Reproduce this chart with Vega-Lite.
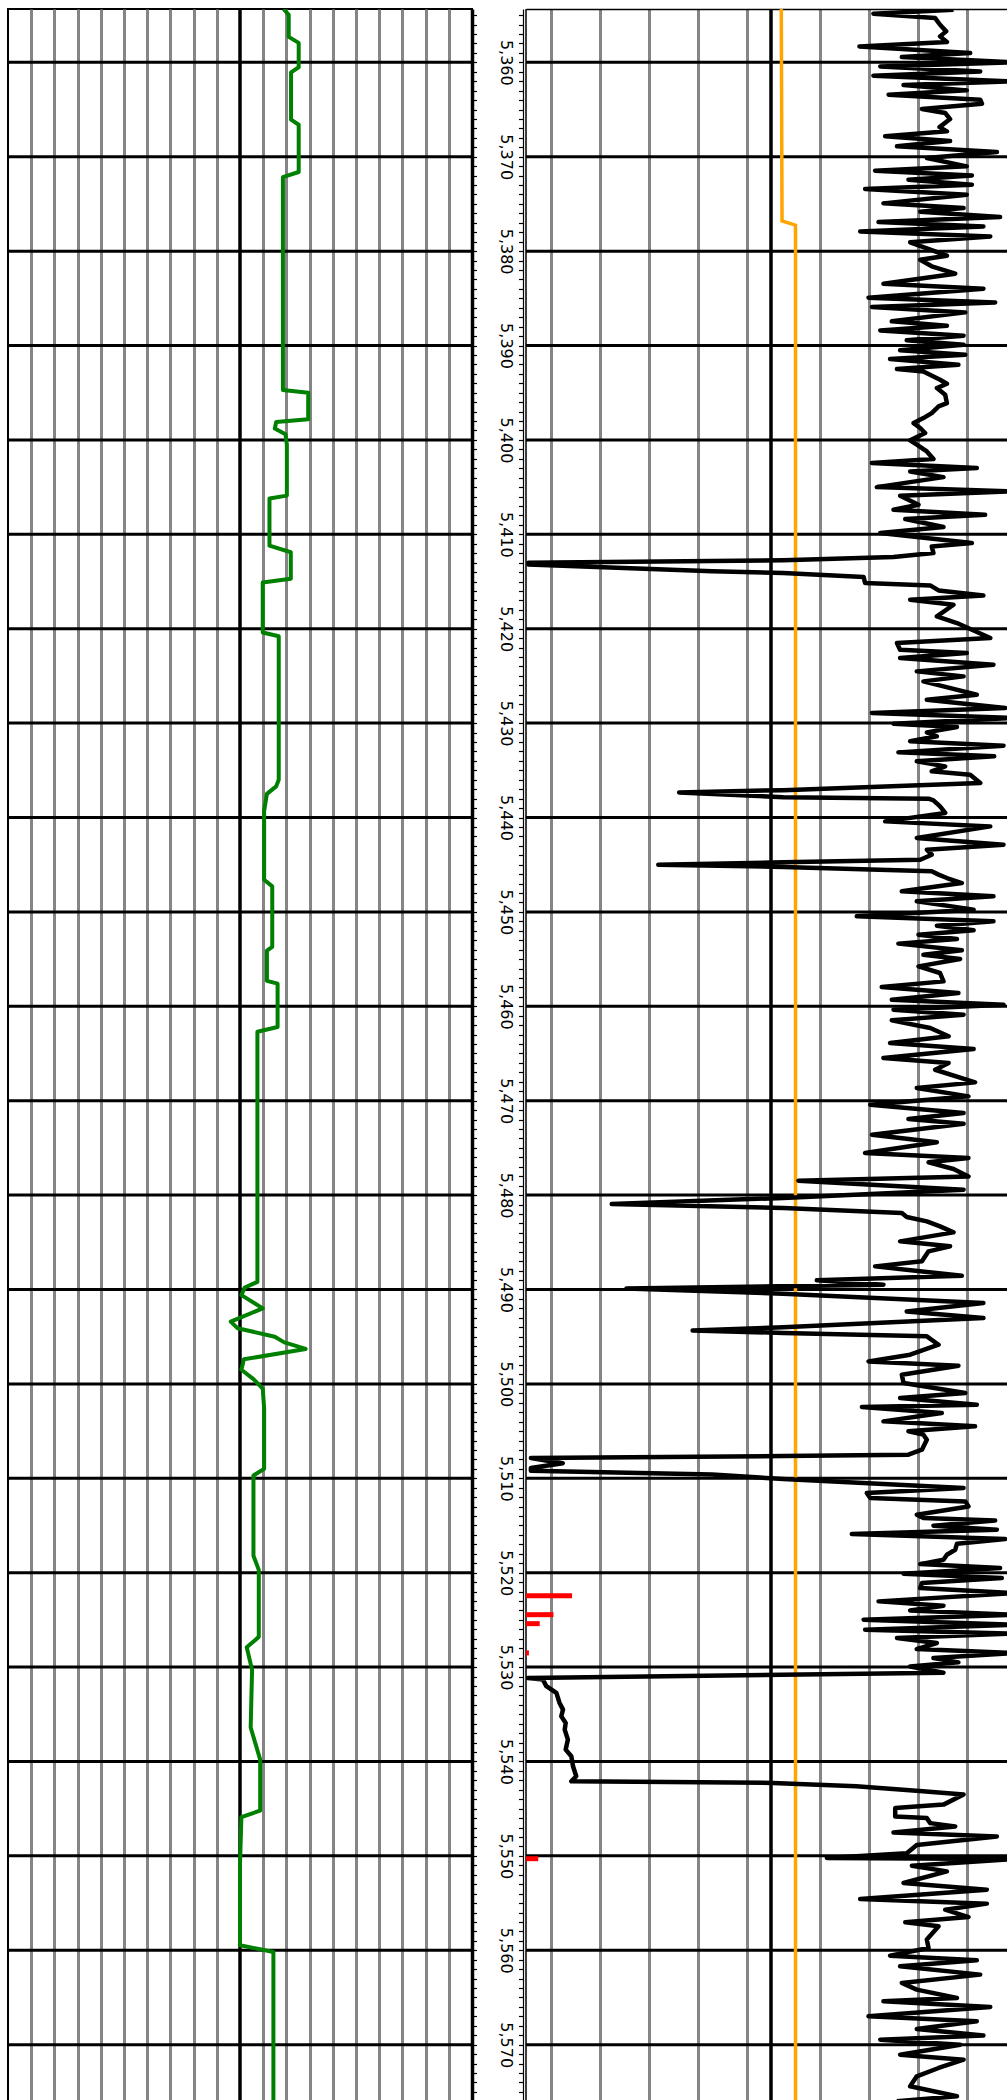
{
  "$schema": "https://vega.github.io/schema/vega-lite/v6.json",
  "padding": {"left": 5, "top": 6, "right": 0, "bottom": 0},
  "background": "white",
  "spacing": 54,
  "bounds": "flush",
  "config": {"view": {"stroke": null}},
  "datasets": {
    "depthlines": [{"depth":5360},{"depth":5370},{"depth":5380},{"depth":5390},{"depth":5400},{"depth":5410},{"depth":5420},{"depth":5430},{"depth":5440},{"depth":5450},{"depth":5460},{"depth":5470},{"depth":5480},{"depth":5490},{"depth":5500},{"depth":5510},{"depth":5520},{"depth":5530},{"depth":5540},{"depth":5550},{"depth":5560},{"depth":5570}],
    "gr": [
      {"depth":5354.35,"v":11.88},{"depth":5354.97,"v":12.10},{"depth":5357.30,"v":12.10},{"depth":5357.94,"v":12.53},{"depth":5360.52,"v":12.53},{"depth":5361.06,"v":12.20},{"depth":5366.07,"v":12.20},{"depth":5366.61,"v":12.53},{"depth":5371.62,"v":12.53},{"depth":5372.16,"v":11.85},{"depth":5394.70,"v":11.85},{"depth":5395.00,"v":12.94},{"depth":5397.80,"v":12.94},{"depth":5398.10,"v":11.56},{"depth":5398.80,"v":11.50},{"depth":5399.40,"v":11.96},{"depth":5400.50,"v":12.02},{"depth":5405.90,"v":12.02},{"depth":5406.20,"v":11.27},{"depth":5411.20,"v":11.27},{"depth":5411.90,"v":12.19},{"depth":5414.70,"v":12.19},{"depth":5415.10,"v":10.98},{"depth":5420.40,"v":10.98},{"depth":5420.80,"v":11.67},{"depth":5436.00,"v":11.67},{"depth":5436.70,"v":11.56},{"depth":5437.50,"v":11.16},{"depth":5439.30,"v":11.04},{"depth":5446.60,"v":11.04},{"depth":5447.30,"v":11.39},{"depth":5453.70,"v":11.39},{"depth":5454.10,"v":11.16},{"depth":5457.30,"v":11.16},{"depth":5457.60,"v":11.62},{"depth":5462.20,"v":11.62},{"depth":5462.70,"v":10.75},{"depth":5489.20,"v":10.75},{"depth":5489.80,"v":10.20},{"depth":5490.60,"v":10.06},{"depth":5492.00,"v":10.98},{"depth":5493.40,"v":9.60},{"depth":5494.10,"v":9.89},{"depth":5495.00,"v":11.50},{"depth":5495.60,"v":11.91},{"depth":5496.30,"v":12.83},{"depth":5497.40,"v":10.17},{"depth":5498.50,"v":10.06},{"depth":5499.50,"v":10.58},{"depth":5500.50,"v":10.98},{"depth":5502.60,"v":11.04},{"depth":5509.00,"v":11.04},{"depth":5509.70,"v":10.58},{"depth":5518.20,"v":10.58},{"depth":5519.70,"v":10.81},{"depth":5526.80,"v":10.81},{"depth":5527.90,"v":10.29},{"depth":5530.30,"v":10.52},{"depth":5536.40,"v":10.46},{"depth":5539.80,"v":10.87},{"depth":5545.20,"v":10.87},{"depth":5545.90,"v":10.06},{"depth":5550.90,"v":10.00},{"depth":5559.47,"v":10.00},{"depth":5560.18,"v":11.44},{"depth":5576.20,"v":11.44}
    ],
    "cal": [{"depth":5354.35,"v":10.42},{"depth":5376.8,"v":10.45},{"depth":5377.25,"v":11.0},{"depth":5576.2,"v":11.0}],
    "red": [{"depth":5522.45,"v":1.88},{"depth":5524.45,"v":1.12},{"depth":5525.4,"v":0.56},{"depth":5528.5,"v":0.12},{"depth":5550.3,"v":0.5}],
    "res": [
      {"depth":5354.43,"v":17.45},{"depth":5354.85,"v":14.18},{"depth":5355.31,"v":16.70},{"depth":5356.02,"v":16.90},{"depth":5356.72,"v":17.15},{"depth":5357.25,"v":16.90},{"depth":5357.85,"v":17.18},{"depth":5358.31,"v":13.61},{"depth":5359.02,"v":18.13},{"depth":5359.44,"v":15.34},{"depth":5360.01,"v":19.90},{"depth":5360.43,"v":14.46},{"depth":5360.96,"v":18.54},{"depth":5361.42,"v":14.18},{"depth":5362.02,"v":19.90},{"depth":5362.41,"v":15.41},{"depth":5362.97,"v":17.99},{"depth":5363.43,"v":14.80},{"depth":5363.96,"v":18.54},{"depth":5364.38,"v":18.61},{"depth":5364.95,"v":16.16},{"depth":5365.37,"v":17.11},{"depth":5366.01,"v":17.31},{"depth":5366.86,"v":16.88},{"depth":5367.31,"v":17.18},{"depth":5367.84,"v":14.66},{"depth":5368.34,"v":17.31},{"depth":5368.90,"v":15.14},{"depth":5369.50,"v":19.22},{"depth":5370.14,"v":16.36},{"depth":5371.02,"v":17.99},{"depth":5371.48,"v":14.25},{"depth":5371.98,"v":18.20},{"depth":5372.43,"v":15.61},{"depth":5372.96,"v":18.20},{"depth":5373.42,"v":13.84},{"depth":5374.02,"v":17.99},{"depth":5374.94,"v":14.59},{"depth":5375.44,"v":17.86},{"depth":5375.82,"v":16.09},{"depth":5376.39,"v":19.35},{"depth":5376.92,"v":14.39},{"depth":5377.38,"v":18.67},{"depth":5377.91,"v":13.64},{"depth":5378.44,"v":18.95},{"depth":5379.07,"v":15.68},{"depth":5380.48,"v":17.18},{"depth":5380.91,"v":16.09},{"depth":5381.61,"v":16.56},{"depth":5382.39,"v":17.52},{"depth":5383.45,"v":14.59},{"depth":5383.98,"v":18.67},{"depth":5384.93,"v":13.98},{"depth":5385.43,"v":19.15},{"depth":5385.92,"v":14.12},{"depth":5386.49,"v":17.93},{"depth":5387.44,"v":14.93},{"depth":5387.90,"v":17.18},{"depth":5388.40,"v":14.46},{"depth":5388.96,"v":17.86},{"depth":5389.45,"v":15.54},{"depth":5389.91,"v":17.86},{"depth":5390.51,"v":15.27},
      {"depth":5390.98,"v":17.93},{"depth":5391.44,"v":14.86},{"depth":5392.04,"v":17.65},{"depth":5392.49,"v":15.14},{"depth":5392.74,"v":16.22},{"depth":5393.62,"v":16.90},{"depth":5394.05,"v":17.18},{"depth":5394.51,"v":16.77},{"depth":5395.21,"v":17.11},{"depth":5396.10,"v":17.18},{"depth":5396.45,"v":16.84},{"depth":5397.16,"v":16.56},{"depth":5397.69,"v":16.22},{"depth":5398.22,"v":15.82},{"depth":5398.74,"v":16.09},{"depth":5399.27,"v":16.29},{"depth":5400.05,"v":15.68},{"depth":5400.51,"v":15.95},{"depth":5401.22,"v":16.36},{"depth":5402.03,"v":16.63},{"depth":5402.45,"v":14.12},{"depth":5402.98,"v":18.40},{"depth":5403.34,"v":15.68},{"depth":5403.94,"v":17.04},{"depth":5405.00,"v":14.32},{"depth":5405.45,"v":19.69},{"depth":5405.91,"v":15.27},{"depth":5406.87,"v":16.02},{"depth":5407.40,"v":15.00},{"depth":5407.93,"v":18.74},{"depth":5408.38,"v":15.48},{"depth":5409.23,"v":17.04},{"depth":5409.87,"v":14.46},{"depth":5410.93,"v":18.20},{"depth":5411.28,"v":16.56},{"depth":5411.99,"v":16.63},{"depth":5412.41,"v":15.00},{"depth":5412.76,"v":10.50},{"depth":5413.00,"v":0.10},{"depth":5413.20,"v":0.10},{"depth":5413.90,"v":7.60},{"depth":5414.10,"v":10.50},{"depth":5414.53,"v":13.78},{"depth":5415.16,"v":13.84},{"depth":5415.41,"v":16.50},{"depth":5415.94,"v":16.84},{"depth":5416.47,"v":18.67},{"depth":5416.93,"v":15.68},{"depth":5417.46,"v":17.45},{"depth":5418.69,"v":16.77},{"depth":5419.40,"v":17.59},{"depth":5420.99,"v":18.95},{"depth":5421.52,"v":15.14},{"depth":5422.23,"v":15.27},{"depth":5422.58,"v":17.99},{"depth":5423.11,"v":15.27},{"depth":5423.81,"v":19.08},{"depth":5424.52,"v":15.95},{"depth":5425.05,"v":17.86},{"depth":5425.58,"v":16.22},{"depth":5426.11,"v":17.04},{"depth":5426.99,"v":18.40},{"depth":5427.52,"v":16.36},
      {"depth":5428.40,"v":19.56},{"depth":5428.93,"v":14.12},{"depth":5429.46,"v":19.90},{"depth":5430.06,"v":15.00},{"depth":5430.41,"v":17.59},{"depth":5430.98,"v":16.36},{"depth":5431.40,"v":16.77},{"depth":5431.93,"v":15.68},{"depth":5432.39,"v":19.49},{"depth":5433.10,"v":15.20},{"depth":5433.52,"v":19.11},{"depth":5434.05,"v":15.95},{"depth":5434.58,"v":17.11},{"depth":5435.11,"v":16.56},{"depth":5435.46,"v":18.13},{"depth":5436.34,"v":18.54},{"depth":5437.10,"v":10.50},{"depth":5437.35,"v":6.25},{"depth":5437.85,"v":10.50},{"depth":5438.00,"v":16.43},{"depth":5438.18,"v":16.63},{"depth":5438.82,"v":16.90},{"depth":5439.52,"v":17.11},{"depth":5440.41,"v":14.66},{"depth":5440.94,"v":18.95},{"depth":5442.17,"v":15.95},{"depth":5442.88,"v":19.49},{"depth":5443.41,"v":16.36},{"depth":5443.94,"v":16.56},{"depth":5444.47,"v":16.09},{"depth":5444.75,"v":10.50},{"depth":5445.00,"v":5.40},{"depth":5445.24,"v":10.50},{"depth":5445.70,"v":16.56},{"depth":5446.05,"v":16.84},{"depth":5446.41,"v":17.18},{"depth":5446.94,"v":17.79},{"depth":5447.82,"v":15.34},{"depth":5448.35,"v":19.08},{"depth":5448.88,"v":15.95},{"depth":5449.76,"v":18.27},{"depth":5450.47,"v":13.50},{"depth":5451.00,"v":19.08},{"depth":5451.46,"v":16.77},{"depth":5451.95,"v":18.27},{"depth":5452.41,"v":16.02},{"depth":5452.87,"v":17.59},{"depth":5453.36,"v":15.20},{"depth":5454.07,"v":17.79},{"depth":5454.53,"v":16.22},{"depth":5454.99,"v":17.72},{"depth":5455.77,"v":16.02},{"depth":5456.47,"v":16.90},{"depth":5457.36,"v":17.04},{"depth":5457.96,"v":14.52},{"depth":5458.59,"v":17.65},{"depth":5459.30,"v":14.93},{"depth":5459.83,"v":19.49},{"depth":5460.36,"v":15.00},{"depth":5460.89,"v":17.86},{"depth":5461.49,"v":14.93},{"depth":5462.30,"v":16.50},{"depth":5463.18,"v":17.25},{"depth":5463.89,"v":14.86},{"depth":5464.52,"v":18.27},
      {"depth":5465.48,"v":14.59},{"depth":5466.01,"v":17.25},{"depth":5466.72,"v":16.70},{"depth":5468.06,"v":18.33},{"depth":5468.66,"v":15.95},{"depth":5469.54,"v":18.06},{"depth":5470.42,"v":14.05},{"depth":5471.31,"v":17.86},{"depth":5471.94,"v":15.61},{"depth":5472.44,"v":17.86},{"depth":5473.60,"v":14.12},{"depth":5474.41,"v":16.77},{"depth":5475.54,"v":13.84},{"depth":5476.07,"v":18.06},{"depth":5476.53,"v":16.43},{"depth":5477.24,"v":17.45},{"depth":5478.02,"v":18.06},{"depth":5478.47,"v":11.12},{"depth":5479.43,"v":17.86},{"depth":5480.30,"v":10.50},{"depth":5480.95,"v":3.50},{"depth":5481.37,"v":10.50},{"depth":5481.90,"v":15.34},{"depth":5482.32,"v":15.54},{"depth":5482.78,"v":16.36},{"depth":5483.31,"v":16.90},{"depth":5483.95,"v":17.45},{"depth":5484.90,"v":15.27},{"depth":5485.43,"v":17.31},{"depth":5485.96,"v":16.43},{"depth":5487.02,"v":16.16},{"depth":5487.55,"v":14.25},{"depth":5488.54,"v":17.79},{"depth":5489.03,"v":11.87},{"depth":5489.49,"v":14.59},{"depth":5489.90,"v":4.10},{"depth":5490.45,"v":10.50},{"depth":5491.43,"v":18.67},{"depth":5492.32,"v":15.54},{"depth":5493.02,"v":18.67},{"depth":5494.00,"v":10.50},{"depth":5494.35,"v":6.80},{"depth":5494.60,"v":10.50},{"depth":5494.96,"v":16.36},{"depth":5495.85,"v":16.84},{"depth":5496.91,"v":15.68},{"depth":5497.62,"v":13.98},{"depth":5498.07,"v":17.65},{"depth":5499.03,"v":15.34},{"depth":5499.91,"v":15.41},{"depth":5500.97,"v":17.93},{"depth":5501.50,"v":15.27},
      {"depth":5502.21,"v":18.40},{"depth":5502.45,"v":13.71},{"depth":5503.09,"v":16.97},{"depth":5503.97,"v":14.59},{"depth":5504.50,"v":18.33},{"depth":5505.03,"v":15.61},{"depth":5505.38,"v":16.22},{"depth":5505.91,"v":16.36},{"depth":5506.97,"v":16.16},{"depth":5507.50,"v":15.61},{"depth":5507.65,"v":10.50},{"depth":5507.85,"v":0.20},{"depth":5508.40,"v":1.50},{"depth":5508.90,"v":0.20},{"depth":5509.20,"v":0.20},{"depth":5509.60,"v":7.60},{"depth":5510.08,"v":10.50},{"depth":5511.03,"v":17.86},{"depth":5511.56,"v":13.91},{"depth":5512.09,"v":14.05},{"depth":5512.45,"v":17.93},{"depth":5512.98,"v":18.06},{"depth":5513.86,"v":15.95},{"depth":5514.21,"v":16.22},{"depth":5514.46,"v":19.15},{"depth":5515.02,"v":16.63},{"depth":5515.45,"v":19.22},{"depth":5515.91,"v":13.30},{"depth":5516.44,"v":19.56},{"depth":5516.93,"v":17.59},{"depth":5517.57,"v":17.52},{"depth":5518.10,"v":17.18},{"depth":5518.63,"v":17.04},{"depth":5519.09,"v":16.09},{"depth":5519.51,"v":19.35},{"depth":5520.11,"v":15.41},{"depth":5520.57,"v":19.42},{"depth":5521.10,"v":16.16},{"depth":5521.63,"v":16.09},{"depth":5522.16,"v":19.90},{"depth":5523.04,"v":14.39},{"depth":5523.50,"v":17.04},{"depth":5524.00,"v":15.68},{"depth":5524.45,"v":19.90},{"depth":5524.98,"v":13.78},{"depth":5525.51,"v":19.90},{"depth":5526.04,"v":13.84},{"depth":5526.46,"v":19.76},{"depth":5526.92,"v":15.14},{"depth":5527.45,"v":16.77},{"depth":5528.09,"v":15.95},{"depth":5528.51,"v":19.90},{"depth":5529.04,"v":16.63},{"depth":5529.50,"v":17.65},{"depth":5529.93,"v":15.68},{"depth":5530.60,"v":17.04},
      {"depth":5531.15,"v":0.08},{"depth":5531.33,"v":0.69},{"depth":5532.03,"v":0.83},{"depth":5532.74,"v":1.24},{"depth":5533.80,"v":1.37},{"depth":5534.51,"v":1.51},{"depth":5535.21,"v":1.44},{"depth":5535.92,"v":1.62},{"depth":5536.62,"v":1.58},{"depth":5537.68,"v":1.71},{"depth":5538.74,"v":1.62},{"depth":5539.45,"v":1.85},{"depth":5540.51,"v":1.92},{"depth":5541.57,"v":2.05},{"depth":5542.10,"v":1.85},{"depth":5542.27,"v":10.08},{"depth":5542.63,"v":13.48},{"depth":5543.16,"v":16.20},{"depth":5543.51,"v":17.86},{"depth":5544.57,"v":17.04},{"depth":5544.93,"v":15.07},{"depth":5545.83,"v":15.07},{"depth":5546.00,"v":16.36},{"depth":5546.53,"v":16.50},{"depth":5546.89,"v":17.52},{"depth":5547.52,"v":15.00},{"depth":5547.95,"v":19.22},{"depth":5548.84,"v":15.95},{"depth":5549.72,"v":15.54},{"depth":5550.22,"v":12.28},{"depth":5550.33,"v":19.90},{"depth":5551.04,"v":15.75},{"depth":5551.64,"v":17.18},{"depth":5552.87,"v":15.41},{"depth":5553.58,"v":18.81},{"depth":5554.57,"v":13.64},{"depth":5555.06,"v":18.81},{"depth":5555.70,"v":17.11},{"depth":5556.48,"v":18.06},{"depth":5557.04,"v":15.48},{"depth":5557.46,"v":16.84},{"depth":5558.87,"v":16.36},{"depth":5559.76,"v":16.43},{"depth":5560.57,"v":14.86},{"depth":5561.06,"v":18.40},{"depth":5561.70,"v":15.27},{"depth":5562.58,"v":18.54},{"depth":5563.46,"v":15.34},{"depth":5564.17,"v":15.95},{"depth":5565.05,"v":17.59},{"depth":5565.41,"v":14.59},{"depth":5566.01,"v":18.95},{"depth":5567.00,"v":13.98},{"depth":5567.52,"v":18.40},{"depth":5568.34,"v":15.95},{"depth":5569.04,"v":18.67},{"depth":5569.47,"v":14.46},{"depth":5570.00,"v":17.72},{"depth":5571.06,"v":15.27},{"depth":5571.59,"v":17.86},{"depth":5572.47,"v":16.84},{"depth":5573.35,"v":15.95},{"depth":5574.41,"v":15.68},{"depth":5575.47,"v":17.59},{"depth":5576.00,"v":15.14}
    ]
  },
  "hconcat": [
    {
      "width": 464,
      "height": 2094,
      "view": {"stroke": "black", "strokeWidth": 2},
      "layer": [
        {
          "data": {"name": "depthlines"},
          "mark": {"type": "rule", "color": "black", "strokeWidth": 3},
          "encoding": {
            "y": {"field": "depth", "type": "quantitative",
                  "scale": {"domain": [5354.35, 5576.18], "reverse": true, "nice": false, "zero": false},
                  "axis": {"orient": "right", "domain": true, "domainColor": "black", "domainWidth": 3.5, "ticks": true, "tickColor": "black", "tickWidth": 1.2, "tickSize": 4.5, "tickCount": 220, "labels": false, "grid": false, "title": null}}
          }
        },
        {
          "data": {"values": [{}]},
          "mark": {"type": "rule", "color": "black", "strokeWidth": 3.5},
          "encoding": {
            "x": {"datum": 10, "type": "quantitative",
                  "scale": {"domain": [0, 20], "nice": false, "zero": false},
                  "axis": {"orient": "top", "domain": false, "ticks": false, "labels": false, "grid": true, "values": [1,2,3,4,5,6,7,8,9,11,12,13,14,15,16,17,18,19], "gridColor": "#858585", "gridWidth": 3, "gridOpacity": 1, "title": null}}
          }
        },
        {
          "data": {"name": "gr"},
          "mark": {"type": "line", "color": "green", "strokeWidth": 4, "strokeJoin": "round", "clip": true},
          "encoding": {
            "x": {"field": "v", "type": "quantitative",
                  "scale": {"domain": [0, 20], "nice": false, "zero": false},
                  "axis": {"orient": "top", "domain": false, "ticks": false, "labels": false, "grid": true, "values": [1,2,3,4,5,6,7,8,9,11,12,13,14,15,16,17,18,19], "gridColor": "#858585", "gridWidth": 3, "gridOpacity": 1, "title": null}},
            "y": {"field": "depth", "type": "quantitative",
                  "scale": {"domain": [5354.35, 5576.18], "reverse": true, "nice": false, "zero": false},
                  "axis": {"orient": "right", "domain": true, "domainColor": "black", "domainWidth": 3.5, "ticks": true, "tickColor": "black", "tickWidth": 1.2, "tickSize": 4.5, "tickCount": 220, "labels": false, "grid": false, "title": null}},
            "order": {"field": "depth", "type": "quantitative"}
          }
        }
      ]
    },
    {
      "width": 484,
      "height": 2094,
      "layer": [
        {
          "data": {"name": "depthlines"},
          "mark": {"type": "rule", "color": "black", "strokeWidth": 3},
          "encoding": {
            "y": {"field": "depth", "type": "quantitative",
                  "scale": {"domain": [5354.35, 5576.18], "reverse": true, "nice": false, "zero": false},
                  "axis": {"orient": "left", "offset": 3, "domain": true, "domainColor": "black", "domainWidth": 1.2, "ticks": true, "tickColor": "black", "tickWidth": 1.2, "tickSize": 4.5, "tickCount": 220, "labels": true, "labelExpr": "datum.value % 10 === 0 ? format(datum.value, ',d') : ''", "labelAngle": 90, "labelAlign": "center", "labelBaseline": "middle", "labelPadding": 13, "labelFont": "DejaVu Sans", "labelFontSize": 16, "labelColor": "black", "labelOverlap": false, "labelFlush": false, "labelBound": false, "grid": false, "title": null}}
          }
        },
        {
          "data": {"values": [{"p": 10, "w": 3.5}, {"p": 0, "w": 1.5}]},
          "mark": {"type": "rule", "color": "black"},
          "encoding": {
            "x": {"field": "p", "type": "quantitative",
                  "scale": {"domain": [0, 19.755], "nice": false, "zero": false},
                  "axis": {"orient": "top", "domain": true, "domainColor": "black", "domainWidth": 1.5, "ticks": false, "labels": false, "grid": true, "values": [1,2,3,4,5,6,7,8,9,11,12,13,14,15,16,17,18,19], "gridColor": "#858585", "gridWidth": 3, "gridOpacity": 1, "title": null}},
            "strokeWidth": {"field": "w", "type": "quantitative", "scale": null, "legend": null}
          }
        },
        {
          "data": {"name": "cal"},
          "mark": {"type": "line", "color": "orange", "strokeWidth": 3.5, "clip": true},
          "encoding": {
            "x": {"field": "v", "type": "quantitative",
                  "scale": {"domain": [0, 19.755], "nice": false, "zero": false},
                  "axis": {"orient": "top", "domain": true, "domainColor": "black", "domainWidth": 1.5, "ticks": false, "labels": false, "grid": true, "values": [1,2,3,4,5,6,7,8,9,11,12,13,14,15,16,17,18,19], "gridColor": "#858585", "gridWidth": 3, "gridOpacity": 1, "title": null}},
            "y": {"field": "depth", "type": "quantitative",
                  "scale": {"domain": [5354.35, 5576.18], "reverse": true, "nice": false, "zero": false}},
            "order": {"field": "depth", "type": "quantitative"}
          }
        },
        {
          "data": {"name": "red"},
          "mark": {"type": "rule", "color": "red", "strokeWidth": 5},
          "encoding": {
            "x": {"field": "v", "type": "quantitative",
                  "scale": {"domain": [0, 19.755], "nice": false, "zero": false}},
            "x2": {"datum": 0},
            "y": {"field": "depth", "type": "quantitative",
                  "scale": {"domain": [5354.35, 5576.18], "reverse": true, "nice": false, "zero": false}}
          }
        },
        {
          "data": {"name": "res"},
          "mark": {"type": "line", "color": "black", "strokeWidth": 4.5, "strokeJoin": "round", "clip": true},
          "encoding": {
            "x": {"field": "v", "type": "quantitative",
                  "scale": {"domain": [0, 19.755], "nice": false, "zero": false}},
            "y": {"field": "depth", "type": "quantitative",
                  "scale": {"domain": [5354.35, 5576.18], "reverse": true, "nice": false, "zero": false}},
            "order": {"field": "depth", "type": "quantitative"}
          }
        }
      ]
    }
  ]
}
